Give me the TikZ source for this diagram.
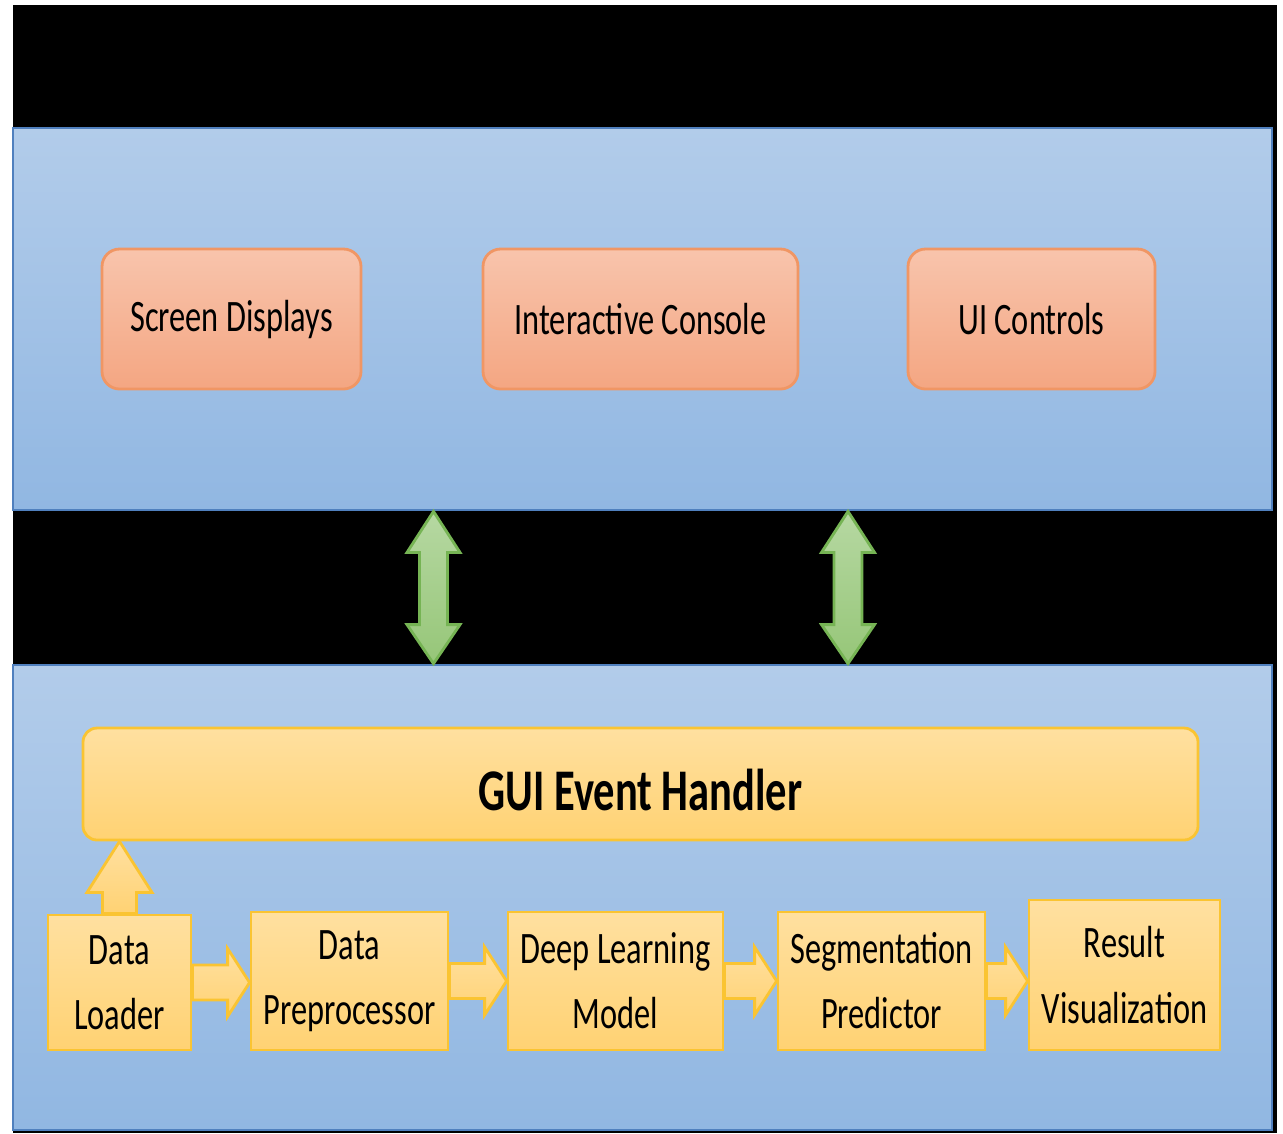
\documentclass[tikz,border=0pt]{standalone}
\usepackage{fontspec}
\usepackage{tikz}
\usepackage{xcolor}
\usetikzlibrary{calc}
\newfontfamily\boxfont[FakeStretch=0.72]{Carlito}
\definecolor{paneltop}{RGB}{178, 204, 234}
\definecolor{panelbot}{RGB}{145, 183, 226}
\definecolor{panelline}{RGB}{80, 128, 190}
\definecolor{salmontop}{RGB}{248, 196, 172}
\definecolor{salmonbot}{RGB}{244, 166, 130}
\definecolor{salmonline}{RGB}{240, 150, 100}
\definecolor{ambertop}{RGB}{255, 224, 160}
\definecolor{amberbot}{RGB}{255, 210, 115}
\definecolor{amberline}{RGB}{250, 196, 50}
\definecolor{leaftop}{RGB}{182, 216, 162}
\definecolor{leafbot}{RGB}{150, 198, 120}
\definecolor{leafline}{RGB}{118, 180, 84}

\tikzset{
  panel/.style={draw=panelline, line width=0.8pt, top color=paneltop, bottom color=panelbot, inner sep=0pt},
  uibox/.style={draw=salmonline, line width=0.8pt, rounded corners=5pt, top color=salmontop, bottom color=salmonbot,
    minimum height=1.4cm, font=\boxfont\fontsize{12.8pt}{15pt}\selectfont},
  handlerbox/.style={draw=amberline, line width=0.8pt, rounded corners=4pt, top color=ambertop, bottom color=amberbot,
    text height=0.52cm, text depth=0pt, font=\boxfont\bfseries\fontsize{16.8pt}{19pt}\selectfont},
  stagebox/.style={draw=amberline, line width=0.8pt, top color=ambertop, bottom color=amberbot, align=center,
    inner sep=0pt, font=\boxfont\fontsize{12.8pt}{18.5pt}\selectfont},
  flowfill/.style={draw=amberline, line width=0.8pt, top color=ambertop, bottom color=amberbot},
  linkfill/.style={draw=leafline, line width=0.8pt, top color=leaftop, bottom color=leafbot}
}

% block arrow from the east side of #1 to the west side of #2
\newcommand{\flowarrow}[2]{%
  \path[flowfill] let \p1=(#1.east), \p2=(#2.west) in
    (\x1,\y1+0.175cm) -- (\x2-0.22cm,\y1+0.175cm) -- (\x2-0.22cm,\y1+0.34cm) -- (\x2,\y1)
    -- (\x2-0.22cm,\y1-0.34cm) -- (\x2-0.22cm,\y1-0.175cm) -- (\x1,\y1-0.175cm) -- cycle;}

% two-headed link between coordinates #1 (top) and #2 (bottom)
\newcommand{\linkarrow}[2]{%
  \path[linkfill] let \p1=(#1), \p2=(#2) in
    (\x1,\y1) -- (\x1+0.265cm,\y1-0.41cm) -- (\x1+0.14cm,\y1-0.41cm) -- (\x1+0.14cm,\y2+0.39cm)
    -- (\x1+0.265cm,\y2+0.39cm) -- (\x1,\y2) -- (\x1-0.265cm,\y2+0.39cm) -- (\x1-0.14cm,\y2+0.39cm)
    -- (\x1-0.14cm,\y1-0.41cm) -- (\x1-0.265cm,\y1-0.41cm) -- cycle;}

\begin{document}
\begin{tikzpicture}[x=1cm, y=-1cm]
\fill[white] (0,0) rectangle (12.83,11.33);
\fill[black] (0.13,0.05) rectangle (12.77,11.33);
\useasboundingbox (0,0) rectangle (12.83,11.33);

% panels
\node[panel, minimum width=12.59cm, minimum height=3.82cm] (uipanel) at (6.425,3.19) {};
\node[panel, minimum width=12.59cm, minimum height=4.65cm] (corepanel) at (6.425,8.975) {};

% interface layer
\node[uibox, minimum width=2.59cm] (screens) at (2.315,3.19) {Screen Displays};
\node[uibox, minimum width=3.15cm] (console) at (6.405,3.19) {Interactive Console};
\node[uibox, minimum width=2.47cm] (controls) at (10.315,3.19) {UI Controls};

% core layer
\node[handlerbox, minimum width=11.15cm, minimum height=1.12cm] (handler) at (6.405,7.84) {GUI Event Handler};

\node[stagebox, minimum width=1.43cm, minimum height=1.35cm] (loader) at (1.195,9.825) {Data\\Loader};
\node[stagebox, minimum width=1.97cm, minimum height=1.38cm] (prep) at (3.495,9.81) {Data\\Preprocessor};
\node[stagebox, minimum width=2.15cm, minimum height=1.38cm] (model) at (6.155,9.81) {Deep Learning\\Model};
\node[stagebox, minimum width=2.07cm, minimum height=1.38cm] (predictor) at (8.815,9.81) {Segmentation\\Predictor};
\node[stagebox, minimum width=1.91cm, minimum height=1.50cm] (result) at (11.245,9.75) {Result\\Visualization};

% links between layers
\coordinate (linkAtop) at (uipanel.south -| 4.335,0);
\coordinate (linkAbot) at (corepanel.north -| 4.335,0);
\coordinate (linkBtop) at (uipanel.south -| 8.48,0);
\coordinate (linkBbot) at (corepanel.north -| 8.48,0);
\linkarrow{linkAtop}{linkAbot}
\linkarrow{linkBtop}{linkBbot}

% pipeline
\path[flowfill] let \p1=(loader.north), \p2=(handler.south) in
  (\x1-0.17cm,\y1) -- (\x1-0.17cm,\y2-0.51cm) -- (\x1-0.325cm,\y2-0.51cm) -- (\x1,\y2)
  -- (\x1+0.325cm,\y2-0.51cm) -- (\x1+0.17cm,\y2-0.51cm) -- (\x1+0.17cm,\y1) -- cycle;
\flowarrow{loader}{prep}
\flowarrow{prep}{model}
\flowarrow{model}{predictor}
\flowarrow{predictor}{result}
\end{tikzpicture}
\end{document}
